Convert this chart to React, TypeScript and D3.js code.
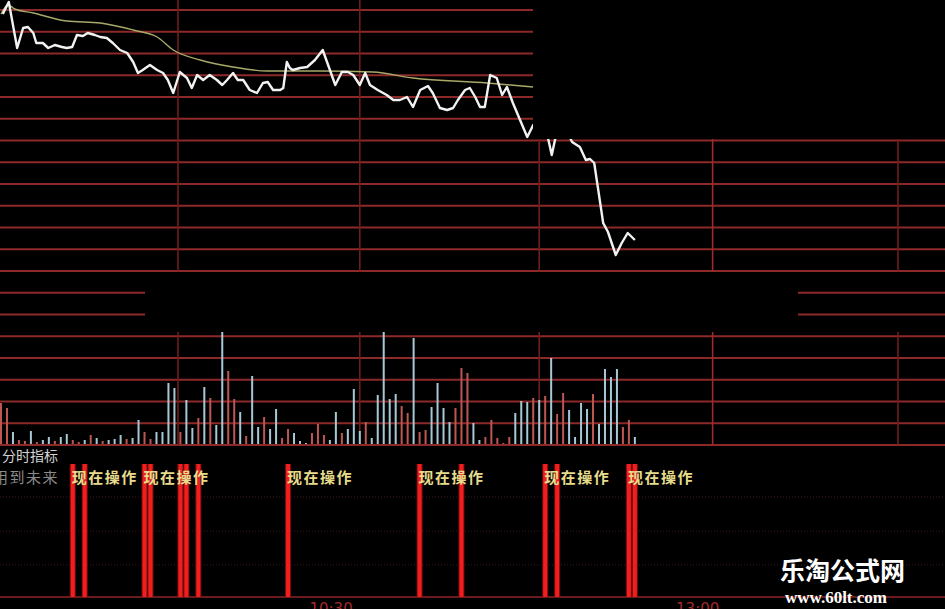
import React from 'react';
import * as d3 from 'd3';

const W = 945;
const H = 609;

// volume per minute (relative units)
const volume = [
  41, 36, 12, 4, 3, 13, 2, 4, 7, 3,
  7, 10, 4, 2, 4, 9, 6, 3, 4, 5,
  9, 5, 6, 24, 12, 5, 12, 12, 61, 56,
  12, 44, 16, 26, 57, 46, 19, 112, 73, 45,
  32, 8, 68, 17, 27, 15, 35, 6, 15, 11,
  3, 1, 11, 20, 9, 4, 32, 11, 15, 55,
  13, 22, 6, 49, 113, 45, 50, 38, 31, 106,
  12, 14, 37, 61, 36, 22, 36, 76, 71, 21,
  4, 7, 24, 6, 1, 7, 31, 43, 42, 46,
  44, 48, 86, 30, 51, 34, 7, 41, 35, 50,
  20, 75, 67, 75, 17, 24, 7,
];
// r = up (red), b = down (cyan)
const volumeDir = (
  'rrbrrbrbbr' + 'bbrrbrbrbb' + 'brbbrrbbbb' + 'rbbrbrbbrr' + 'brbbrbbrrb' +
  'bbrrrbbrbb' + 'brbbbbbrrb' + 'rrbbbbrrrb' + 'brrrrrbbbr' + 'brbrrbbbbr' + 'bbbbrrb'
).split('');

// price line: minute index and price
const priceT = [
  0.3, 1.3, 2.7, 3.7, 4.5, 5.4, 5.9, 7.0, 7.9, 9.0, 10.2, 11.0, 11.9, 12.7, 13.7, 14.5, 15.7, 16.6, 17.7, 18.7,
  19.9, 21.1, 22.1, 22.9, 23.7, 24.9, 26.1, 27.1, 27.9, 28.8, 29.9, 31.1, 31.9, 32.8, 33.8, 34.9, 36.1, 37.0, 37.8, 38.8,
  39.6, 40.5, 41.6, 42.8, 43.8, 44.6, 45.5, 46.7, 47.2, 47.8, 48.3, 48.8, 50.0, 51.2, 52.5, 53.8, 54.7, 55.9, 57.0, 58.0,
  58.9, 60.0, 60.9, 61.7, 63.0, 64.5, 65.6, 66.7, 67.9, 68.9, 70.1, 71.4, 72.2, 73.4, 74.6, 75.6, 76.4, 77.6, 78.4, 79.3,
  80.1, 80.9, 81.8, 82.9, 83.8, 84.6, 85.6, 86.8, 88.0, 89.0, 90.1, 91.1, 92.1, 93.0, 94.3, 95.5, 96.8, 97.8, 98.5, 99.2,
  99.8, 100.7, 101.5, 102.8, 103.8, 104.8, 106.0,
];
const priceV = [
  12.86, 12.98, 12.52, 12.72, 12.73, 12.67, 12.57, 12.57, 12.52, 12.55, 12.53, 12.52, 12.53, 12.65, 12.64, 12.67, 12.65, 12.63, 12.62, 12.57,
  12.50, 12.47, 12.38, 12.27, 12.30, 12.35, 12.30, 12.27, 12.20, 12.07, 12.28, 12.22, 12.12, 12.25, 12.20, 12.25, 12.20, 12.15, 12.20, 12.27,
  12.20, 12.20, 12.10, 12.07, 12.17, 12.18, 12.10, 12.10, 12.12, 12.38, 12.32, 12.30, 12.32, 12.33, 12.40, 12.50, 12.35, 12.15, 12.28, 12.28,
  12.25, 12.15, 12.27, 12.15, 12.10, 12.05, 12.00, 12.00, 12.03, 11.93, 12.10, 12.14, 12.07, 11.92, 11.90, 11.92, 12.00, 12.10, 12.12, 12.03,
  11.93, 11.93, 12.25, 12.22, 12.05, 12.13, 11.97, 11.80, 11.63, 11.75, 11.82, 11.72, 11.45, 11.70, 11.72, 11.58, 11.53, 11.40, 11.41, 11.37,
  11.13, 10.77, 10.68, 10.45, 10.57, 10.67, 10.60,
];

// average price line
const avgT = [0.0, 1.2, 2.3, 5.4, 11.0, 16.6, 22.1, 26.1, 28.8, 33.3, 38.8, 44.5, 53.3, 62.2, 68.9, 81.3, 89.0];
const avgV = [12.86, 12.95, 12.91, 12.87, 12.79, 12.77, 12.70, 12.63, 12.50, 12.40, 12.33, 12.29, 12.29, 12.28, 12.22, 12.17, 12.13];

// indicator signals (minute index)
const signalMinutes = [12, 14, 24, 25, 30, 31, 33, 48, 70, 77, 91, 93, 105, 106];
const signalTextMinutes = [12, 24, 48, 70, 91, 105];
const signalText = '现在操作';

const gridMinutes = [29.6, 60, 90, 119, 150];
const gridRows = d3.range(0, 21);
const timeLabels = [
  { t: 55.2, label: '10:30' },
  { t: 116.5, label: '13:00' },
];

export default function App() {
  const x = d3.scaleLinear().domain([0, 150]).range([1, 898]);
  const yP = d3.scaleLinear().domain([13, 10]).range([0, 300]);
  const yV = d3.scaleLinear().domain([0, 113]).range([444, 331]);
  const rowY = d3.scaleLinear().domain([0, 20]).range([10, 445]);

  const priceLine = d3
    .line<number>()
    .x((_, i) => x(priceT[i]))
    .y((v) => yP(v))
    .curve(d3.curveLinear);
  const avgLine = d3
    .line<number>()
    .x((_, i) => x(avgT[i]))
    .y((v) => yP(v))
    .curve(d3.curveMonotoneX);

  const gridColor = '#962c2c';

  return (
    <div style={{ position: 'fixed', left: 0, top: 0, width: W, height: H, background: '#000' }}>
      <svg width={W} height={H} style={{ display: 'block' }}>
        <rect x={0} y={0} width={W} height={H} fill="#000" />
        {/* horizontal grid */}
        {gridRows.map((r) => (
          <line key={'h' + r} x1={0} x2={W} y1={rowY(r)} y2={rowY(r)} stroke={gridColor} strokeWidth={2} opacity={0.95} />
        ))}
        {/* vertical grid */}
        {gridMinutes.map((t, i) => (
          <g key={'v' + i}>
            <line x1={x(t)} x2={x(t)} y1={0} y2={rowY(12)} stroke={i === 3 ? '#a02a2a' : '#6e1e1e'} strokeWidth={1.6} />
            <line x1={x(t)} x2={x(t)} y1={332} y2={rowY(20)} stroke={i === 3 ? '#a02a2a' : '#6e1e1e'} strokeWidth={1.6} />
          </g>
        ))}
        {/* average line */}
        <path d={avgLine(avgV) || ''} fill="none" stroke="#a8a868" strokeWidth={1.4} />
        {/* price line */}
        <path d={priceLine(priceV) || ''} fill="none" stroke="#f2f2f2" strokeWidth={2.4} strokeLinejoin="round" />
        {/* volume bars */}
        {volume.map((v, i) => (
          <rect
            key={'vb' + i}
            x={x(i) - 1}
            y={yV(v)}
            width={2}
            height={Math.max(0.8, yV(0) - yV(v))}
            fill={volumeDir[i] === 'r' ? '#bd5752' : '#a6c8d4'}
          />
        ))}
        {/* masked (blacked-out) regions */}
        <rect x={533} y={0} width={W - 533} height={139} fill="#000" />
        <rect x={145} y={274} width={798 - 145} height={58} fill="#000" />

        {/* indicator panel */}
        {[497, 531, 565].map((yy) => (
          <line key={'d' + yy} x1={0} x2={W} y1={yy} y2={yy} stroke="#3a1a1a" strokeWidth={1} strokeDasharray="1,2" />
        ))}
        <line x1={0} x2={W} y1={597} y2={597} stroke="#8e2424" strokeWidth={1.6} />
        {signalMinutes.map((t, i) => (
          <g key={'s' + i}>
            <rect x={x(t) - 3} y={464} width={6} height={133} fill="#7a0c0c" />
            <rect x={x(t) - 2} y={464} width={4} height={133} fill="#f01e1e" />
          </g>
        ))}
        <text x={2} y={461} fill="#d4d4d4" fontSize={14} fontFamily="'Noto Sans CJK SC', sans-serif">
          分时指标
        </text>
        <text x={-7} y={483} fill="#8a8a8a" fontSize={15} fontFamily="'Noto Sans CJK SC', sans-serif" letterSpacing={1.5}>
          用到未来
        </text>
        {signalTextMinutes.map((t, i) => (
          <text
            key={'st' + i}
            x={x(t) - 1}
            y={483}
            fill="#e6dc8c"
            fontSize={15}
            fontWeight={700}
            letterSpacing={1.5}
            fontFamily="'Noto Sans CJK SC', sans-serif"
          >
            {signalText}
          </text>
        ))}
        {timeLabels.map((d, i) => (
          <text
            key={'tl' + i}
            x={x(d.t)}
            y={614}
            fill="#a02a2a"
            fontSize={15}
            textAnchor="middle"
            fontFamily="'DejaVu Sans', sans-serif"
          >
            {d.label}
          </text>
        ))}
        {/* watermark */}
        <text x={780} y={580} fill="#ffffff" fontSize={25} fontWeight={700} fontFamily="'Noto Sans CJK SC', sans-serif">
          乐淘公式网
        </text>
        <text x={785} y={603} fill="#ffffff" fontSize={17} fontWeight={700} fontFamily="'Liberation Serif', serif">
          www.60lt.com
        </text>
      </svg>
    </div>
  );
}
